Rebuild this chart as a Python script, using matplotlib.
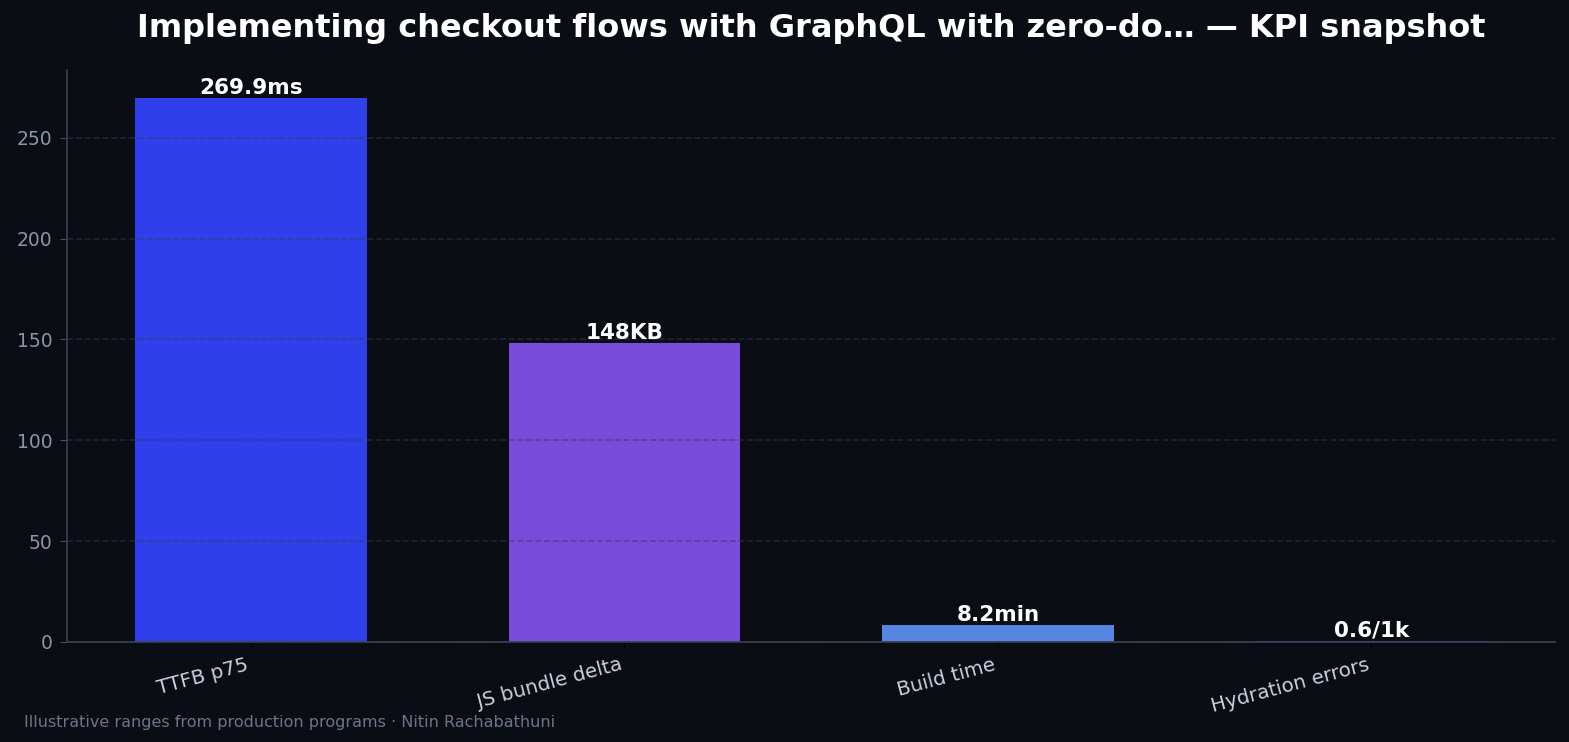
import matplotlib
matplotlib.use("Agg")
import matplotlib.pyplot as plt

plt.rcParams["font.family"] = ["DejaVu Sans"]

categories = ["TTFB p75", "JS bundle delta", "Build time", "Hydration errors"]
values = [269.9, 148, 8.2, 0.6]
labels = ["269.9ms", "148KB", "8.2min", "0.6/1k"]
bar_colors = ["#2f3feb", "#7b4bdb", "#5585e0", "#3a8fd6"]

BG = "#0a0d14"

fig, ax = plt.subplots(figsize=(15.69, 7.42), dpi=100)
fig.patch.set_facecolor(BG)
ax.set_facecolor(BG)

x = range(len(categories))
bars = ax.bar(x, values, width=0.62, color=bar_colors, zorder=2)

for b, lab in zip(bars, labels):
    ax.text(b.get_x() + b.get_width() / 2, b.get_height(), lab,
            ha="center", va="bottom", color="white", fontsize=15.5,
            fontweight="bold", zorder=4)

ax.set_ylim(0, max(values) * 1.05)
ax.set_xticks(list(x))
ax.set_xticklabels(categories, rotation=15, ha="right", fontsize=14.3)
ax.tick_params(axis="x", colors="#000000", labelcolor="#c9d1dc", pad=6)
ax.tick_params(axis="y", colors="#4a5262", labelcolor="#8b95a7", labelsize=13.5,
               length=5, pad=6)

# grid sits on top of the bars, half transparent
ax.set_axisbelow(False)
ax.grid(axis="y", linestyle="--", color="#343b50", alpha=0.5, linewidth=1.2)
for s in ["top", "right"]:
    ax.spines[s].set_visible(False)
for s in ["left", "bottom"]:
    ax.spines[s].set_color("#3a4252")
    ax.spines[s].set_linewidth(1.2)
    ax.spines[s].set_zorder(5)

ax.set_title("Implementing checkout flows with GraphQL with zero-do\u2026 \u2014 KPI snapshot",
             color="white", fontsize=23, fontweight="bold", pad=24)

fig.text(0.015, 0.02, "Illustrative ranges from production programs \u00b7 Nitin Rachabathuni",
         color="#6b7588", fontsize=11.5)

fig.subplots_adjust(left=0.043, right=0.991, top=0.905, bottom=0.135)
fig.savefig("out.png", facecolor=BG)
